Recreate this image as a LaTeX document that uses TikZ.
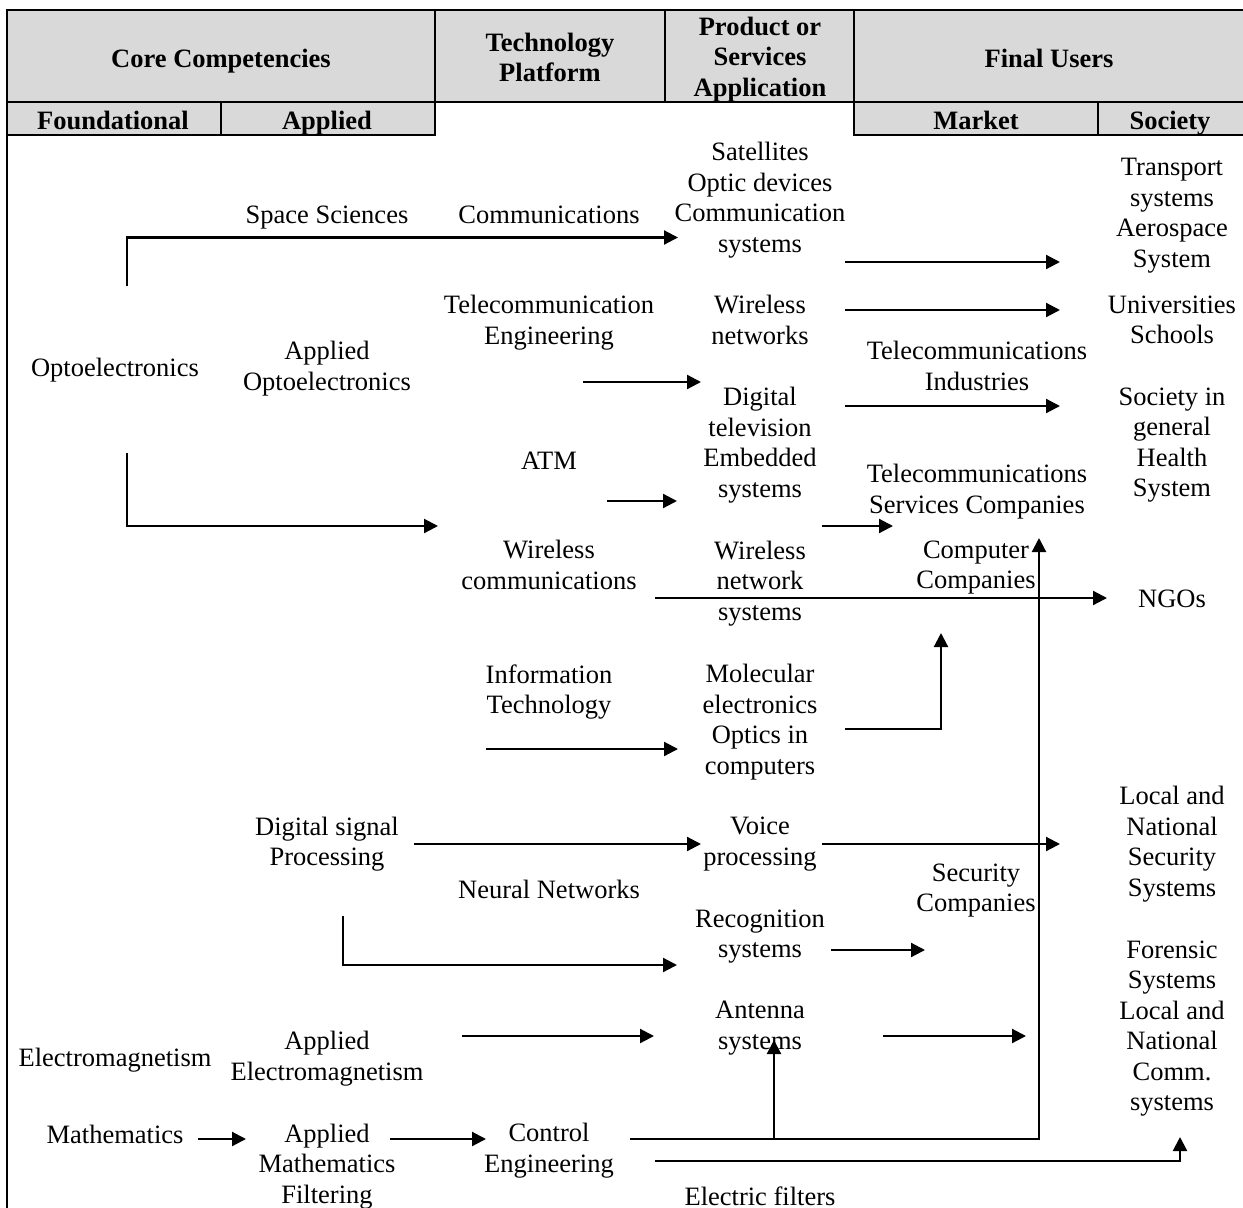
\documentclass[tikz,border=0pt]{standalone}
\usepackage{fontspec}
\setmainfont{Liberation Serif}
\usetikzlibrary{arrows.meta}
\definecolor{hdr}{RGB}{217,217,217}
\begin{document}
\begin{tikzpicture}[x=1pt,y=-1pt,
  txt/.style={font=\fontsize{26.5}{30.5}\selectfont, align=center, inner sep=0pt, yshift=-4pt,
    execute at begin node=\strut, execute at end node=\strut},
  head/.style={txt, font=\fontsize{26.5}{30.5}\selectfont\bfseries},
  rule/.style={line width=2.3pt},
  link/.style={line width=2.2pt},
  arr/.style={link, -{Triangle[length=14pt,width=14pt]}}]
\useasboundingbox (0,0) rectangle (1243,1208);
% header backgrounds
\fill[hdr] (7,10) rectangle (1243,102);
\fill[hdr] (7,102) rectangle (435,135);
\fill[hdr] (854,102) rectangle (1243,135);
% table rules
\draw[rule] (1243,10) -- (7,10) -- (7,1208);
\draw[rule] (7,102) -- (1243,102);
\draw[rule] (435,10) -- (435,135) -- (7,135);
\draw[rule] (221,102) -- (221,135);
\draw[rule] (665,10) -- (665,102);
\draw[rule] (854,10) -- (854,135) -- (1243,135);
\draw[rule] (1098,102) -- (1098,135);
% header texts
\node[head] (hcore) at (221,57) {Core Competencies};
\node[head] (htech) at (550,58) {Technology\\Platform};
\node[head] (hprod) at (760,57) {Product or\\Services\\Application};
\node[head] (hfinal) at (1049,57) {Final Users};
\node[head] (hfound) at (113,119) {Foundational};
\node[head] (happl) at (327,119) {Applied};
\node[head] (hmark) at (976,119) {Market};
\node[head] (hsoc) at (1170,119) {Society};
% body texts
\node[txt] (ss) at (327,213) {Space Sciences};
\node[txt] (comm) at (549,213) {Communications};
\node[txt] (sat) at (760,198) {Satellites\\Optic devices\\Communication\\systems};
\node[txt] (trans) at (1172,213.5) {Transport\\systems\\Aerospace\\System};
\node[txt] (tele) at (549,320.5) {Telecommunication\\Engineering};
\node[txt] (wn) at (760,320.5) {Wireless\\networks};
\node[txt] (univ) at (1172,320.5) {Universities\\Schools};
\node[txt] (opto) at (115,366) {Optoelectronics};
\node[txt] (aopto) at (327,366.5) {Applied\\Optoelectronics};
\node[txt] (tind) at (977,366.5) {Telecommunications\\Industries};
\node[txt] (dtv) at (760,443) {Digital\\television\\Embedded\\systems};
\node[txt] (socg) at (1172,443) {Society in\\general\\Health\\System};
\node[txt] (atm) at (549,459) {ATM};
\node[txt] (tsc) at (977,489.5) {Telecommunications\\Services Companies};
\node[txt] (wc) at (549,565.5) {Wireless\\communications};
\node[txt] (wns) at (760,581) {Wireless\\network\\systems};
\node[txt] (cc) at (976,565.5) {Computer\\Companies};
\node[txt] (ngo) at (1172,597) {NGOs};
\node[txt] (it) at (549,689.5) {Information\\Technology};
\node[txt] (mol) at (760,720) {Molecular\\electronics\\Optics in\\computers};
\node[txt] (dsp) at (327,842) {Digital signal\\Processing};
\node[txt] (vp) at (760,842) {Voice\\processing};
\node[txt] (lnss) at (1172,842) {Local and\\National\\Security\\Systems};
\node[txt] (nn) at (549,888) {Neural Networks};
\node[txt] (sec) at (976,888.5) {Security\\Companies};
\node[txt] (rec) at (760,934.5) {Recognition\\systems};
\node[txt] (fls) at (1172,1026.5) {Forensic\\Systems\\Local and\\National\\Comm.\\systems};
\node[txt] (em) at (115,1056) {Electromagnetism};
\node[txt] (aem) at (327,1056.5) {Applied\\Electromagnetism};
\node[txt] (ant) at (760,1026) {Antenna\\systems};
\node[txt] (math) at (115,1133) {Mathematics};
\node[txt] (amath) at (327,1164) {Applied\\Mathematics\\Filtering};
\node[txt] (ce) at (549,1148.5) {Control\\Engineering};
\node[txt] (ef) at (760,1195) {Electric filters};
% connector end points
\coordinate (o1) at (127,286);   \coordinate (o1t) at (678,237.5);
\coordinate (o2) at (127,453);   \coordinate (o2t) at (438,526);
\coordinate (s1) at (845,262);   \coordinate (s1t) at (1060,262);
\coordinate (w1) at (845,310);   \coordinate (w1t) at (1060,310);
\coordinate (te1) at (583,382);  \coordinate (te1t) at (701,382);
\coordinate (d1) at (845,406);   \coordinate (d1t) at (1060,406);
\coordinate (at1) at (607,501);  \coordinate (at1t) at (677,501);
\coordinate (e1) at (822,526);   \coordinate (e1t) at (893,526);
\coordinate (wc1) at (655,598);  \coordinate (wc1t) at (1107,598);
\coordinate (m1) at (845,729);   \coordinate (m1t) at (941,633);
\coordinate (it1) at (486,749);  \coordinate (it1t) at (678,749);
\coordinate (ds1) at (414,844);  \coordinate (ds1t) at (701,844);
\coordinate (v1) at (822,844);   \coordinate (v1t) at (1060,844);
\coordinate (ds2) at (343,916);  \coordinate (ds2t) at (677,965);
\coordinate (r1) at (831,950);   \coordinate (r1t) at (925,950);
\coordinate (ae1) at (462,1036); \coordinate (ae1t) at (654,1036);
\coordinate (an1) at (883,1036); \coordinate (an1t) at (1026,1036);
\coordinate (ma1) at (198,1139); \coordinate (ma1t) at (246,1139);
\coordinate (am1) at (390,1139); \coordinate (am1t) at (486,1139);
\coordinate (c1) at (630,1139);  \coordinate (c1t) at (1039,538);
\coordinate (c2) at (774,1139);  \coordinate (c2t) at (774,1040);
\coordinate (c3) at (655,1161);  \coordinate (c3t) at (1180,1137);
% connectors
\draw[arr] (o1) |- (o1t);
\draw[arr] (o2) |- (o2t);
\draw[arr] (s1) -- (s1t);
\draw[arr] (w1) -- (w1t);
\draw[arr] (te1) -- (te1t);
\draw[arr] (d1) -- (d1t);
\draw[arr] (at1) -- (at1t);
\draw[arr] (e1) -- (e1t);
\draw[arr] (wc1) -- (wc1t);
\draw[arr] (m1) -| (m1t);
\draw[arr] (it1) -- (it1t);
\draw[arr] (ds1) -- (ds1t);
\draw[arr] (v1) -- (v1t);
\draw[arr] (ds2) |- (ds2t);
\draw[arr] (r1) -- (r1t);
\draw[arr] (ae1) -- (ae1t);
\draw[arr] (an1) -- (an1t);
\draw[arr] (ma1) -- (ma1t);
\draw[arr] (am1) -- (am1t);
\draw[arr] (c1) -| (c1t);
\draw[arr] (c2) -- (c2t);
\draw[arr] (c3) -| (c3t);
\end{tikzpicture}
\end{document}
